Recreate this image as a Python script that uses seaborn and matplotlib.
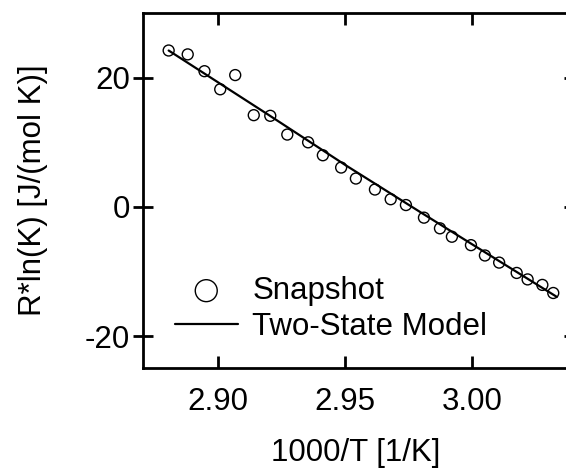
import matplotlib
matplotlib.use("Agg")
import matplotlib.pyplot as plt
import numpy as np
import pandas as pd
import seaborn as sns

# ── Data ──────────────────────────────────────────────────────────────────
inv_t_snapshot = [
    2.8805, 2.8880, 2.8946, 2.9008, 2.9067, 2.9140, 2.9205, 2.9272, 2.9354,
    2.9412, 2.9484, 2.9542, 2.9617, 2.9679, 2.9739, 2.9810, 2.9873, 2.9920,
    2.9995, 3.0050, 3.0106, 3.0175, 3.0218, 3.0276, 3.0319,
]
rlnk_snapshot = [
    24.2, 23.6, 21.0, 18.2, 20.4, 14.2, 14.1, 11.2, 10.0,
    8.0, 6.1, 4.4, 2.7, 1.2, 0.3, -1.65, -3.3, -4.6,
    -5.9, -7.5, -8.6, -10.2, -11.2, -12.05, -13.3,
]

inv_t_model = [2.8805, 2.9200, 2.9500, 2.9800, 3.0333]
rlnk_model = [24.2, 14.2, 6.5, -0.9, -13.9]

x_ticks = [2.90, 2.95, 3.00]
y_ticks = [-20, 0, 20]

snap = pd.DataFrame({"x": inv_t_snapshot, "y": rlnk_snapshot})
model = pd.DataFrame({"x": inv_t_model, "y": rlnk_model})

# ── Style ─────────────────────────────────────────────────────────────────
sns.set_style("ticks")
plt.rcParams["font.family"] = ["Liberation Sans", "DejaVu Sans"]
plt.rcParams["text.color"] = "black"
plt.rcParams["axes.labelcolor"] = "black"
FS = 22.5

fig = plt.figure(figsize=(5.66, 4.70), dpi=100)
ax = fig.add_axes([143 / 566, 1 - 368 / 470, (568 - 143) / 566, (368 - 13) / 470])

sns.scatterplot(
    data=snap, x="x", y="y", ax=ax,
    marker="o", s=62, facecolor="none", edgecolor="black", linewidth=1.0,
    label="Snapshot", zorder=3,
)
sns.lineplot(
    data=model, x="x", y="y", ax=ax,
    color="black", linewidth=1.6, label="Two-State Model", zorder=2,
)

ax.set_xlim(2.8704, 3.0377)
ax.set_ylim(-24.9, 30)
ax.set_xticks(x_ticks)
ax.set_xticklabels([f"{v:.2f}" for v in x_ticks])
ax.set_yticks(y_ticks)
ax.set_yticklabels([str(v) for v in y_ticks])

for side in ["left", "bottom", "top", "right"]:
    ax.spines[side].set_visible(True)
    ax.spines[side].set_linewidth(2.0)
    ax.spines[side].set_color("black")

ax.tick_params(axis="x", which="both", direction="in", length=8.5, width=2.0,
               top=True, bottom=True, labelsize=FS, pad=14, colors="black")
ax.tick_params(axis="y", which="both", direction="inout", length=15, width=2.0,
               left=True, right=True, labelsize=FS, pad=2, colors="black")
for t in ax.yaxis.get_ticklines()[1::2]:
    t.set_markersize(6)

ax.set_xlabel("1000/T [1/K]", fontsize=FS, labelpad=15)
ax.set_ylabel("R*ln(K) [J/(mol K)]", fontsize=FS, labelpad=26)
ax.grid(False)

leg = ax.legend(
    loc="center left", bbox_to_anchor=(175 / 566, 1 - 309 / 470),
    bbox_transform=fig.transFigure, frameon=False, fontsize=FS,
    borderpad=0, borderaxespad=0, handlelength=2.0, handletextpad=0.48,
    labelspacing=0.2,
)
leg.legend_handles[0].set_sizes([250])

fig.savefig("out.png", dpi=100)
